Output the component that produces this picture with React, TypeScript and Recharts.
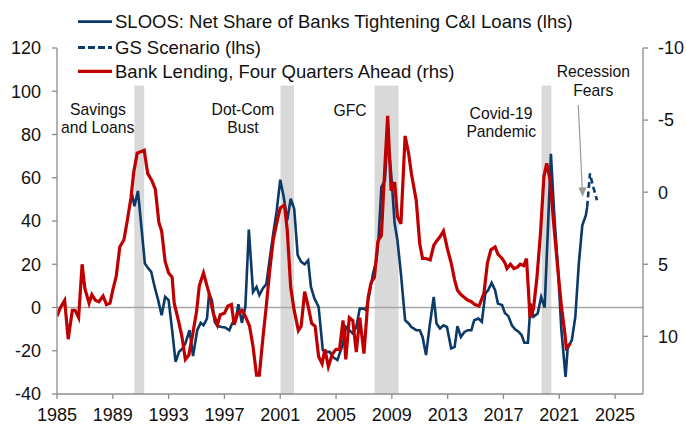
import { LineChart, Line, XAxis, YAxis, ReferenceArea, ReferenceLine } from 'recharts';

// year, value (rhs, inverted)
const lendingPoints: [number, number][] = [
  [1985.0, 8.6], [1985.25, 8.0], [1985.55, 7.5], [1985.8, 10.2], [1986.1, 8.2], [1986.3, 8.2],
  [1986.55, 8.7], [1986.8, 5.0], [1987.0, 6.7], [1987.3, 7.7], [1987.5, 7.1], [1987.75, 7.5],
  [1988.0, 7.6], [1988.3, 7.2], [1988.55, 7.8], [1988.8, 7.7], [1989.0, 6.8], [1989.25, 5.8],
  [1989.5, 3.8], [1989.8, 3.3], [1990.05, 1.9], [1990.3, 0.4], [1990.5, -1.4], [1990.75, -2.7],
  [1991.0, -2.8], [1991.25, -2.9], [1991.5, -1.3], [1991.8, -0.8], [1992.05, -0.2], [1992.3, 2.1],
  [1992.5, 2.7], [1992.75, 4.8], [1993.0, 5.6], [1993.25, 5.9], [1993.4, 7.7], [1993.7, 8.9],
  [1993.95, 10.0], [1994.2, 11.6], [1994.45, 11.3], [1994.7, 10.0], [1995.0, 8.3], [1995.2, 6.5],
  [1995.5, 5.6], [1995.75, 6.5], [1995.9, 7.0], [1996.2, 8.4], [1996.5, 9.2], [1996.7, 8.5],
  [1997.0, 8.4], [1997.25, 7.9], [1997.5, 7.8], [1997.7, 9.2], [1997.95, 8.4], [1998.25, 8.2],
  [1998.5, 8.6], [1998.8, 9.3], [1999.05, 10.7], [1999.3, 12.7], [1999.5, 12.7], [1999.75, 10.2],
  [2000.0, 7.9], [2000.25, 5.4], [2000.5, 3.3], [2000.8, 1.9], [2001.0, 1.1], [2001.3, 0.9],
  [2001.5, 2.6], [2001.75, 6.6], [2002.0, 8.2], [2002.3, 9.6], [2002.5, 9.3], [2002.75, 6.9],
  [2003.0, 7.9], [2003.25, 9.1], [2003.5, 9.3], [2003.75, 11.4], [2004.0, 11.9], [2004.2, 10.9],
  [2004.45, 12.1], [2004.75, 11.2], [2005.0, 10.9], [2005.25, 10.9], [2005.5, 8.9], [2005.7, 11.6],
  [2005.95, 8.7], [2006.2, 8.9], [2006.45, 11.1], [2006.7, 8.7], [2007.0, 11.2], [2007.3, 7.3],
  [2007.5, 6.3], [2007.75, 5.9], [2008.0, 3.4], [2008.25, 3.0], [2008.5, -1.8], [2008.7, -5.3],
  [2008.95, -0.1], [2009.2, -0.7], [2009.4, 1.7], [2009.65, 2.2], [2009.95, -3.9], [2010.2, -2.7],
  [2010.4, -1.3], [2010.75, 0.6], [2011.0, 3.6], [2011.2, 4.6], [2011.45, 4.6], [2011.75, 4.7],
  [2012.0, 3.7], [2012.2, 3.4], [2012.45, 3.1], [2012.7, 2.7], [2013.0, 4.0], [2013.25, 4.9],
  [2013.5, 6.1], [2013.7, 6.8], [2013.95, 7.1], [2014.2, 7.3], [2014.45, 7.5], [2014.7, 7.6],
  [2014.95, 7.8], [2015.25, 7.9], [2015.6, 7.0], [2015.85, 4.9], [2016.1, 4.0], [2016.4, 3.8],
  [2016.6, 4.3], [2016.9, 4.6], [2017.1, 4.9], [2017.25, 5.3], [2017.5, 5.0], [2017.75, 5.3],
  [2018.0, 5.2], [2018.2, 5.0], [2018.45, 5.1], [2018.65, 4.6], [2018.8, 7.0], [2018.9, 8.7],
  [2019.15, 8.1], [2019.4, 5.9], [2019.65, 2.9], [2019.9, -1.1], [2020.1, -2.0], [2020.35, -0.8],
  [2020.6, 2.2], [2020.9, 5.4], [2021.15, 7.9], [2021.4, 9.8], [2021.5, 10.8], [2021.8, 10.5],
];

// year, value (lhs)
const sloosPoints: [number, number][] = [
  [1990.37, 52.7], [1990.55, 46.8], [1990.8, 53.9], [1991.05, 37.2], [1991.3, 20.3], [1991.5, 18.5],
  [1991.75, 16.5], [1992.0, 9.5], [1992.25, 3.4], [1992.5, -3.6], [1992.75, 4.9], [1993.0, 3.4],
  [1993.25, -10.5], [1993.5, -25.1], [1993.75, -20.5], [1994.0, -18.9], [1994.2, -16.6], [1994.5, -10.5],
  [1994.75, -22.5], [1995.05, -10.5], [1995.3, -7.1], [1995.5, -8.2], [1995.75, -5.1], [1995.9, 6.5],
  [1996.1, 3.4], [1996.3, -6.6], [1996.5, -8.6], [1996.8, -9.0], [1997.05, -9.2], [1997.35, -10.5],
  [1997.55, -7.4], [1997.8, -5.9], [1998.0, 1.5], [1998.25, -7.1], [1998.5, 0.3], [1998.75, 36.0],
  [1999.05, 7.2], [1999.3, 9.5], [1999.5, 5.7], [1999.75, 8.8], [2000.0, 10.8], [2000.25, 22.6],
  [2000.5, 34.2], [2000.75, 44.9], [2001.0, 59.1], [2001.25, 51.1], [2001.5, 40.3], [2001.75, 50.3],
  [2002.0, 45.7], [2002.25, 24.2], [2002.5, 21.1], [2002.75, 20.0], [2003.0, 21.8], [2003.2, 9.5],
  [2003.45, 4.2], [2003.75, 0.3], [2004.05, -19.7], [2004.3, -20.5], [2004.55, -20.5], [2004.75, -22.8],
  [2005.1, -24.3], [2005.5, -16.6], [2005.7, -9.0], [2005.95, -10.5], [2006.2, -12.0], [2006.45, -9.0],
  [2006.7, -0.5], [2007.0, -0.5], [2007.15, -1.2], [2007.4, 6.5], [2007.65, 15.7], [2007.9, 21.8],
  [2008.05, 32.6], [2008.25, 55.7], [2008.5, 58.8], [2008.7, 78.8], [2008.95, 61.9], [2009.2, 38.8],
  [2009.4, 31.1], [2009.65, 15.7], [2009.95, -5.9], [2010.2, -7.4], [2010.4, -9.0], [2010.75, -10.5],
  [2011.0, -10.5], [2011.2, -13.6], [2011.45, -22.0], [2011.7, -9.0], [2012.0, 4.9], [2012.2, -7.4],
  [2012.45, -9.7], [2012.7, -8.2], [2012.95, -9.0], [2013.25, -18.9], [2013.5, -18.2], [2013.7, -8.6],
  [2013.95, -13.6], [2014.2, -11.3], [2014.45, -10.5], [2014.7, -10.5], [2014.9, -5.9], [2015.2, -5.1],
  [2015.45, -6.6], [2015.7, 6.5], [2015.9, 8.0], [2016.15, 11.4], [2016.4, 8.0], [2016.6, 1.8],
  [2016.9, 1.1], [2017.1, -2.5], [2017.35, -4.0], [2017.6, -8.2], [2017.85, -10.2], [2018.1, -11.3],
  [2018.3, -12.8], [2018.5, -16.3], [2018.75, -16.3], [2018.95, 1.8], [2019.15, -4.3], [2019.45, -2.8],
  [2019.7, 4.9], [2019.95, 0.0], [2020.2, 38.8], [2020.4, 71.1], [2020.65, 41.8], [2020.9, 18.8],
  [2021.15, -10.5], [2021.45, -32.1], [2021.6, -18.9], [2021.9, -15.1], [2022.15, -4.3], [2022.4, 20.3],
  [2022.65, 38.0], [2022.9, 42.6], [2023.0, 46.5],
];

const scenarioPoints: [number, number][] = [
  [2023.0, 46.5], [2023.2, 62.0], [2023.4, 56.5], [2023.7, 49.6],
];

const recessions: [number, number][] = [
  [1990.54, 1991.25], [2001.02, 2001.98], [2007.76, 2009.48], [2019.74, 2020.43],
];

const yearTicks = [1985, 1989, 1993, 1997, 2001, 2005, 2009, 2013, 2017, 2021, 2025];
const leftTicks = [-40, -20, 0, 20, 40, 60, 80, 100, 120];
const rightTicks = [-10, -5, 0, 5, 10];

const BLUE = '#0b3a68';
const RED = '#c00000';
const AXIS = '#8c8c8c';
const FONT = '"Liberation Sans", Arial, sans-serif';

const toRows = (pts: [number, number][]) => pts.map(([x, v]) => ({ x, v }));

export default function App() {
  const tickStyle = { fontSize: 18, fill: '#111', fontFamily: FONT };
  return (
    <div style={{ position: 'absolute', left: 0, top: 0, width: 686, height: 426, background: '#fff' }}>
      <LineChart width={686} height={426} margin={{ top: 48, right: 3, bottom: 2, left: 7 }}>
        <XAxis
          dataKey="x"
          type="number"
          domain={[1985, 2027]}
          ticks={yearTicks}
          interval={0}
          allowDataOverflow
          height={30}
          tickSize={5}
          tickMargin={9}
          tick={tickStyle}
          axisLine={{ stroke: AXIS, strokeWidth: 1.3 }}
          tickLine={{ stroke: AXIS, strokeWidth: 1.3 }}
        />
        <YAxis
          yAxisId="left"
          domain={[-40, 120]}
          ticks={leftTicks}
          interval={0}
          width={50}
          tickSize={5}
          tickMargin={11}
          tick={tickStyle}
          axisLine={{ stroke: AXIS, strokeWidth: 1.3 }}
          tickLine={{ stroke: AXIS, strokeWidth: 1.3 }}
        />
        <YAxis
          yAxisId="right"
          orientation="right"
          reversed
          domain={[-10, 14]}
          ticks={rightTicks}
          interval={0}
          width={40}
          tickSize={5}
          tickMargin={10}
          tick={{ ...tickStyle, textAnchor: 'start' }}
          axisLine={{ stroke: AXIS, strokeWidth: 1.3 }}
          tickLine={{ stroke: AXIS, strokeWidth: 1.3 }}
        />
        {recessions.map(([a, b], i) => (
          <ReferenceArea
            key={i}
            yAxisId="left"
            x1={a}
            x2={b}
            y1={-40}
            y2={102.7}
            fill="#d9d9d9"
            fillOpacity={1}
            stroke="none"
          />
        ))}
        <ReferenceLine yAxisId="left" y={0} stroke="#a6a6a6" strokeWidth={1.5} />
        <Line
          data={toRows(sloosPoints)}
          yAxisId="left"
          dataKey="v"
          type="linear"
          stroke={BLUE}
          strokeWidth={2.6}
          dot={false}
          isAnimationActive={false}
        />
        <Line
          data={toRows(scenarioPoints)}
          yAxisId="left"
          dataKey="v"
          type="linear"
          stroke={BLUE}
          strokeWidth={2.6}
          strokeDasharray="6 3.5"
          dot={false}
          isAnimationActive={false}
        />
        <Line
          data={toRows(lendingPoints)}
          yAxisId="right"
          dataKey="v"
          type="linear"
          stroke={RED}
          strokeWidth={3.2}
          dot={false}
          isAnimationActive={false}
        />
      </LineChart>
      <svg
        width={686}
        height={426}
        style={{ position: 'absolute', left: 0, top: 0, pointerEvents: 'none' }}
        fontFamily={FONT}
      >
        {/* legend */}
        <line x1={78} x2={112} y1={21.7} y2={21.7} stroke={BLUE} strokeWidth={2.8} />
        <text x={115} y={21.7} fontSize={18.5} dominantBaseline="central" fill="#111">
          SLOOS: Net Share of Banks Tightening C&amp;I Loans (lhs)
        </text>
        <line x1={78} x2={112} y1={47.5} y2={47.5} stroke={BLUE} strokeWidth={2.8} strokeDasharray="7 3" />
        <text x={115} y={47.5} fontSize={18.5} dominantBaseline="central" fill="#111">
          GS Scenario (lhs)
        </text>
        <line x1={78} x2={112} y1={71.3} y2={71.3} stroke={RED} strokeWidth={3.2} />
        <text x={115} y={71.7} fontSize={18.5} dominantBaseline="central" fill="#111">
          Bank Lending, Four Quarters Ahead (rhs)
        </text>

        {/* annotations */}
        <g fontSize={15.7} fill="#111" textAnchor="middle" dominantBaseline="central">
          <text x={98} y={109}>Savings</text>
          <text x={97.7} y={127}>and Loans</text>
          <text x={243} y={109}>Dot-Com</text>
          <text x={243} y={127.5}>Bust</text>
          <text x={350} y={110.5}>GFC</text>
          <text x={501} y={113.3}>Covid-19</text>
          <text x={501.3} y={131.5}>Pandemic</text>
          <text x={593.3} y={71.5}>Recession</text>
          <text x={593.3} y={90}>Fears</text>
        </g>
        <line x1={578.3} y1={105} x2={582.2} y2={188} stroke="#999" strokeWidth={1.2} />
        <polygon points="578.4,187.5 586.4,187.2 582.7,197" fill="#999" />
      </svg>
    </div>
  );
}
